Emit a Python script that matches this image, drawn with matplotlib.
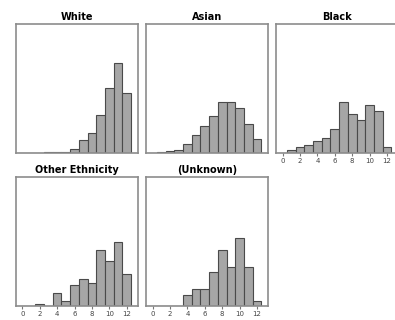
"""
Small-multiple histograms of a 0-12 score by ethnicity (percent of group).
"""
import matplotlib
matplotlib.use("Agg")
import matplotlib.pyplot as plt
import numpy as np

scores = np.arange(0, 13)

# percent of each group at each score
white = [0, 0, 0, 0.2, 0.2, 0.25, 1.5, 4.4, 6.9, 13.3, 22.6, 31.3, 20.8]
asian = [0, 0.35, 0.7, 1.0, 3.1, 6.3, 9.4, 12.8, 17.7, 17.7, 15.6, 10.1, 4.9]
black = [0, 0.9, 2.1, 2.9, 4.1, 5.2, 8.3, 17.7, 13.5, 11.5, 16.7, 14.6, 2.1]
other = [0, 0, 0.7, 0, 4.4, 1.7, 7.3, 9.3, 8.1, 19.4, 15.6, 22.2, 11.1]
unknown = [0, 0, 0, 0, 3.8, 5.8, 5.8, 11.7, 19.7, 13.6, 23.7, 13.6, 1.8]

titles = ["White", "Asian", "Black", "Other Ethnicity", "(Unknown)"]
series = [white, asian, black, other, unknown]
tick_vals = [0, 2, 4, 6, 8, 10, 12]

W, H = 395, 320
fig = plt.figure(figsize=(W / 100, H / 100), dpi=100)

# panel boxes in pixels: (left, top, width, height)
lefts = [15.7, 146, 276]
tops = [24, 177]
pw, ph = 122, 129

for i, (name, vals) in enumerate(zip(titles, series)):
    row, col = divmod(i, 3)
    l, t = lefts[col], tops[row]
    ax = fig.add_axes([l / W, (H - t - ph) / H, pw / W, ph / H])
    ax.bar(scores, vals, width=1, color="#a6a6a6", edgecolor="#4a4a4a",
           linewidth=0.8)
    ax.set_xlim(-0.77, 13.27)
    ax.set_ylim(0, 45)
    ax.set_yticks([])
    for s in ax.spines.values():
        s.set_color("#8c8c8c")
        s.set_linewidth(1.2)
    ax.set_title(name, fontsize=7, fontweight="bold", pad=3)
    # tick labels only under the panels that have nothing below them
    if row == 1 or col == 2:
        ax.set_xticks(tick_vals)
        ax.tick_params(axis="x", length=2.5, width=0.8, color="#777777",
                       labelsize=5, labelcolor="#444444", pad=1)
    else:
        ax.set_xticks([])

fig.savefig("out.png", dpi=100)
